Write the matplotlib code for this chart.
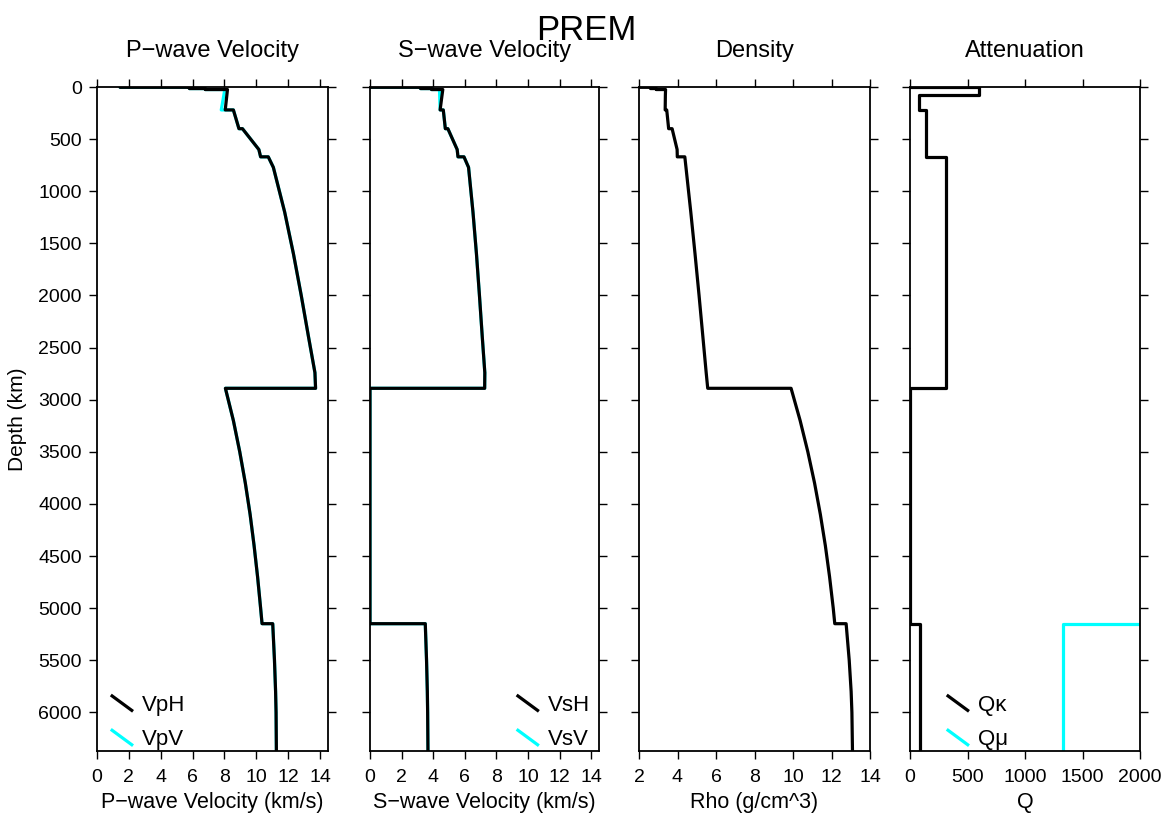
import matplotlib
matplotlib.use("Agg")
import matplotlib.pyplot as plt
from matplotlib.lines import Line2D
from matplotlib.legend_handler import HandlerBase

plt.rcParams['font.family'] = ['Liberation Sans', 'DejaVu Sans']

# ---- data (PREM) ----
depth = [0, 3, 3, 15, 15, 24.4, 24.4, 80, 80, 220, 220, 400, 400, 600, 670, 670,
         771, 1200, 1600, 2000, 2400, 2741, 2891, 2891, 3200, 3500, 3800, 4100,
         4400, 4700, 5000, 5149.5, 5149.5, 5500, 5800, 6000, 6371]

vph = [1.45, 1.45, 5.8, 5.8, 6.8, 6.8, 8.19, 8.15, 8.15, 8.05, 8.56, 8.91, 9.13, 10.16,
       10.27, 10.75, 11.07, 11.78, 12.33, 12.82, 13.28, 13.68, 13.72, 8.06, 8.56, 8.96,
       9.31, 9.61, 9.86, 10.08, 10.27, 10.36, 11.03, 11.14, 11.21, 11.24, 11.26]
vpv = [1.45, 1.45, 5.8, 5.8, 6.8, 6.8, 8.02, 7.96, 7.96, 7.80, 8.56, 8.91, 9.13, 10.16,
       10.27, 10.75, 11.07, 11.78, 12.33, 12.82, 13.28, 13.68, 13.72, 8.06, 8.56, 8.96,
       9.31, 9.61, 9.86, 10.08, 10.27, 10.36, 11.03, 11.14, 11.21, 11.24, 11.26]
vsh = [0, 0, 3.2, 3.2, 3.9, 3.9, 4.61, 4.56, 4.56, 4.44, 4.64, 4.77, 4.93, 5.52,
       5.57, 5.95, 6.24, 6.52, 6.74, 6.93, 7.11, 7.27, 7.26, 0, 0, 0,
       0, 0, 0, 0, 0, 0, 3.50, 3.58, 3.63, 3.65, 3.67]
vsv = [0, 0, 3.2, 3.2, 3.9, 3.9, 4.40, 4.41, 4.41, 4.44, 4.64, 4.77, 4.93, 5.52,
       5.57, 5.95, 6.24, 6.52, 6.74, 6.93, 7.11, 7.27, 7.26, 0, 0, 0,
       0, 0, 0, 0, 0, 0, 3.50, 3.58, 3.63, 3.65, 3.67]
rho = [1.02, 1.02, 2.6, 2.6, 2.9, 2.9, 3.38, 3.37, 3.37, 3.36, 3.44, 3.54, 3.72, 3.98,
       3.99, 4.38, 4.44, 4.69, 4.91, 5.12, 5.32, 5.49, 5.57, 9.90, 10.37, 10.77,
       11.12, 11.42, 11.68, 11.90, 12.09, 12.17, 12.76, 12.92, 13.02, 13.06, 13.09]
q_black = [0, 0, 600, 600, 600, 600, 600, 600, 80, 80, 143, 143, 143, 143,
           143, 312, 312, 312, 312, 312, 312, 312, 312, 0, 0, 0,
           0, 0, 0, 0, 0, 0, 84.6, 84.6, 84.6, 84.6, 84.6]
q_cyan = [57823] * 32 + [1327.7] * 5

depth_ticks = list(range(0, 6001, 500))
CYAN = '#00FFFF'
LW = 2.3


class DiagHandler(HandlerBase):
    def create_artists(self, legend, orig_handle, xdescent, ydescent, width,
                       height, fontsize, trans):
        l = Line2D([-xdescent, -xdescent + width],
                   [-ydescent + height * 1.0, -ydescent - height * 0.05],
                   color=orig_handle.get_color(), lw=orig_handle.get_linewidth(),
                   transform=trans, solid_capstyle='butt')
        return [l]


fig = plt.figure(figsize=(11.67, 8.14), dpi=100)
H = 664 / 814
B = 1 - 751 / 814
axes = [fig.add_axes([97 / 1167, B, 231 / 1167, H]),
        fig.add_axes([370 / 1167, B, 229 / 1167, H]),
        fig.add_axes([639 / 1167, B, 231 / 1167, H]),
        fig.add_axes([910 / 1167, B, 230 / 1167, H])]

titles = ['P\u2212wave Velocity', 'S\u2212wave Velocity', 'Density', 'Attenuation']
xlabels = ['P\u2212wave Velocity (km/s)', 'S\u2212wave Velocity (km/s)',
           'Rho (g/cm^3)', 'Q']

leg_kw = dict(handler_map={Line2D: DiagHandler()}, frameon=False, fontsize=16,
              handlelength=1.0, handletextpad=0.4, labelspacing=0.6,
              borderpad=0, borderaxespad=0.05)

for i, ax in enumerate(axes):
    ax.set_ylim(6371, 0)
    ax.set_yticks(depth_ticks)
    ax.tick_params(direction='out', length=6, width=1.0, top=True, right=True,
                   labeltop=False, labelright=False, labelsize=14, pad=5,
                   color='black')
    ax.tick_params(axis='x', pad=7)
    for s in ax.spines.values():
        s.set_linewidth(1.3)
    ax.text(0.5, 1.045, titles[i], transform=ax.transAxes, ha='center',
            va='baseline', fontsize=17)
    ax.set_xlabel(xlabels[i], fontsize=15.5, labelpad=4.5)
    if i > 0:
        ax.tick_params(labelleft=False)

axes[0].set_ylabel('Depth (km)', fontsize=15, labelpad=8)

# P-wave
ax = axes[0]
c = ax.plot(vpv, depth, color=CYAN, lw=LW, zorder=2)[0]
k = ax.plot(vph, depth, color='black', lw=LW, zorder=3)[0]
ax.set_xlim(0, 14.5)
ax.set_xticks(range(0, 15, 2))
ax.legend([k, c], ['VpH', 'VpV'], loc='lower left',
          bbox_to_anchor=(0.055, 0.0), **leg_kw)

# S-wave
ax = axes[1]
c = ax.plot(vsv, depth, color=CYAN, lw=LW, zorder=2)[0]
k = ax.plot(vsh, depth, color='black', lw=LW, zorder=3)[0]
ax.set_xlim(0, 14.5)
ax.set_xticks(range(0, 15, 2))
ax.legend([k, c], ['VsH', 'VsV'], loc='lower right',
          bbox_to_anchor=(0.965, 0.0), **leg_kw)

# Density
ax = axes[2]
ax.plot(rho, depth, color='black', lw=LW)
ax.set_xlim(2, 14)
ax.set_xticks(range(2, 15, 2))

# Attenuation
ax = axes[3]
k = ax.plot(q_black, depth, color='black', lw=LW, zorder=3)[0]
c = ax.plot(q_cyan, depth, color=CYAN, lw=LW, zorder=2)[0]
ax.set_xlim(0, 2000)
ax.set_xticks(range(0, 2001, 500))
ax.legend([k, c], ['Q\u03ba', 'Q\u03bc'], loc='lower left',
          bbox_to_anchor=(0.155, 0.0), **leg_kw)

fig.text(0.502, 1 - 40 / 814, 'PREM', ha='center', va='baseline', fontsize=25)

fig.savefig('out.png', dpi=100)
